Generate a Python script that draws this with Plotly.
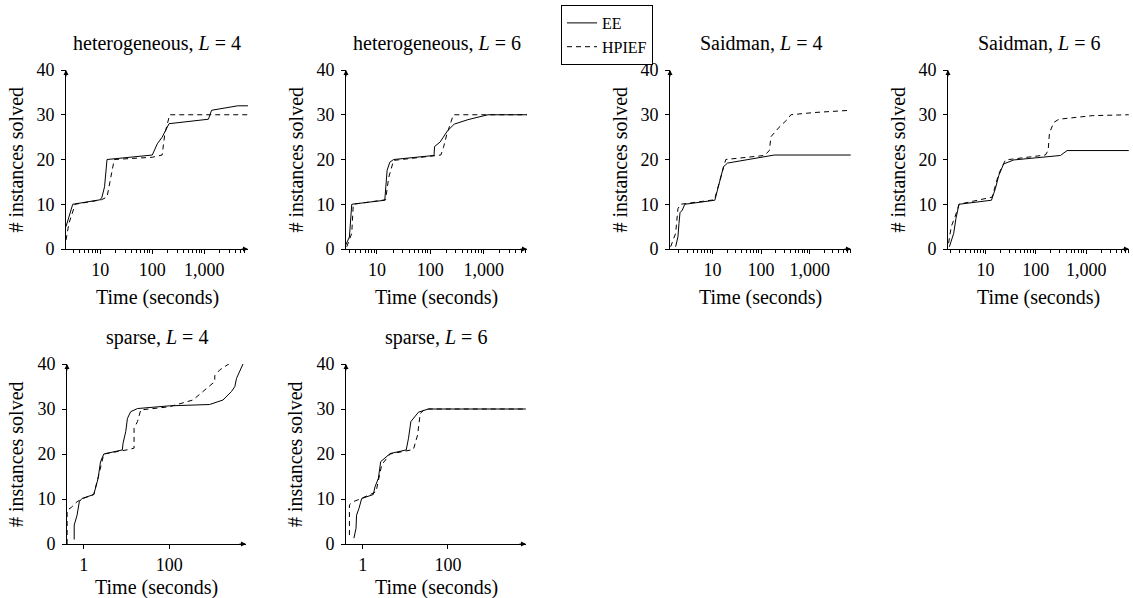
import plotly.graph_objects as go

# time (s) / number of instances solved
het4_ee_t = [2.2, 2.96, 10, 10.8, 12.1, 13.5, 100, 125, 155, 210, 1200, 1380, 4400, 6900]
het4_ee_n = [5, 10, 11, 11.6, 13.9, 20, 21, 23.5, 25, 28, 29, 31, 32, 32]
het4_hp_t = [2.2, 2.5, 3.3, 10.5, 13.5, 15.2, 18.6, 100, 155, 174, 216, 6900]
het4_hp_n = [2, 5.7, 10, 11, 11.6, 14.6, 20, 20.5, 21, 25.7, 30, 30]

het6_ee_t = [2.6, 3.05, 3.37, 14, 15.5, 17.4, 20.5, 117, 120, 152, 209, 280, 505, 1200, 6500]
het6_ee_n = [0.9, 2.7, 10, 10.9, 17.6, 19.4, 20, 20.9, 22.9, 23.9, 26.4, 27.9, 28.9, 30, 30]
het6_hp_t = [2.72, 3.37, 3.6, 14.5, 16.6, 20.5, 157, 176, 204, 270, 6500]
het6_hp_n = [0.5, 3.5, 10, 11, 16, 19.8, 21, 22.7, 25.7, 30, 30]

sai4_ee_t = [1.75, 1.95, 2.05, 2.15, 2.4, 2.7, 11.2, 14.4, 16.9, 20.4, 45, 100, 187, 7000]
sai4_ee_n = [0.5, 2.7, 5.7, 8.1, 8.7, 10, 10.9, 15.3, 18.4, 19.2, 19.9, 20.5, 21, 21]
sai4_hp_t = [1.38, 1.75, 1.95, 2.2, 11, 16.5, 18.8, 117, 148, 160, 235, 350, 410, 1250, 7000]
sai4_hp_n = [0.5, 3.5, 9, 10, 11, 18.3, 20, 20.9, 22, 25.1, 27.2, 29, 30, 30.5, 31]

sai6_ee_t = [1.93, 2.35, 2.6, 2.86, 3.0, 13.2, 15.8, 18.4, 23, 36.6, 134, 309, 418, 7000]
sai6_ee_n = [0.5, 3.5, 6.8, 9.4, 10, 10.9, 13.5, 16.4, 19, 19.9, 20.5, 20.9, 22, 22]
sai6_hp_t = [1.86, 2.1, 2.5, 2.9, 3.0, 13.6, 18.4, 25, 155, 176, 187, 229, 288, 1320, 7000]
sai6_hp_n = [1.3, 5, 7.2, 9.4, 10, 11.6, 16.8, 19.9, 21, 22, 26, 28.3, 29, 29.8, 30]

spa4_ee_t = [0.6, 0.6, 0.7, 0.76, 0.79, 0.91, 1.72, 2.17, 2.47, 2.95, 7.97, 8.3, 9.6, 10.5,
             12.5, 18, 100, 870, 1790, 2830, 3390, 3700, 4450, 5300]
spa4_ee_n = [1, 4.2, 6.4, 8.7, 9.4, 10.1, 11, 14.6, 18.3, 20, 20.9, 22.4, 25, 27.9,
             29.4, 30.1, 30.7, 31, 32, 33.9, 35, 36.8, 38.7, 40.1]
spa4_hp_t = [0.41, 0.41, 0.51, 0.70, 0.95, 1.72, 2.2, 2.95, 11.4, 15, 15, 18, 21.5, 100,
             355, 730, 1150, 1150, 1510, 2830]
spa4_hp_n = [0, 7.5, 8.1, 9.4, 10.1, 11, 15, 20, 21, 21.3, 25.7, 27.2, 29.8, 30.5,
             32, 34.6, 36.1, 37.4, 38.7, 40.4]

spa6_ee_t = [0.625, 0.70, 0.72, 0.82, 0.95, 1.78, 1.95, 2.34, 2.65, 4.4, 10.5, 11.9, 13.5, 20.4, 35, 6700]
spa6_ee_n = [1.3, 3.5, 6.4, 7.9, 10.1, 11, 12.7, 14.6, 18.3, 20.1, 20.9, 23.5, 27.2, 29.3, 30, 30]
spa6_hp_t = [0.49, 0.49, 0.60, 0.87, 2.06, 2.8, 4.4, 15.5, 19.4, 22.4, 29, 6700]
spa6_hp_n = [2, 8.7, 9.4, 10, 11.6, 17.6, 20, 21, 24.2, 29, 30, 30]

titles = ["heterogeneous, <i>L</i> = 4", "heterogeneous, <i>L</i> = 6",
          "Saidman, <i>L</i> = 4", "Saidman, <i>L</i> = 6",
          "sparse, <i>L</i> = 4", "sparse, <i>L</i> = 6"]
series = [
    (het4_ee_t, het4_ee_n, het4_hp_t, het4_hp_n),
    (het6_ee_t, het6_ee_n, het6_hp_t, het6_hp_n),
    (sai4_ee_t, sai4_ee_n, sai4_hp_t, sai4_hp_n),
    (sai6_ee_t, sai6_ee_n, sai6_hp_t, sai6_hp_n),
    (spa4_ee_t, spa4_ee_n, spa4_hp_t, spa4_hp_n),
    (spa6_ee_t, spa6_ee_n, spa6_hp_t, spa6_hp_n),
]

W, H = 1133, 598
FONT = "Liberation Serif"
TICK_FS = 18
LABEL_FS = 20

# pixel boxes of each panel (left, right, top, bottom) and log10 x-range
panels = [
    dict(box=(66, 248, 70, 249), xr=(0.342, 3.84), top=True),
    dict(box=(346, 527, 70, 249), xr=(0.42, 3.81), top=True),
    dict(box=(670, 851, 70, 249), xr=(0.127, 3.85), top=True),
    dict(box=(948, 1129, 70, 249), xr=(0.258, 3.85), top=True),
    dict(box=(67, 246, 364, 544), xr=(-0.39, 3.79), top=False),
    dict(box=(346, 526, 364, 544), xr=(-0.39, 3.83), top=False),
]

minor_vals = [m * 10 ** e for e in range(0, 4) for m in range(2, 10)]

fig = go.Figure()
layout = dict(width=W, height=H,
              margin=dict(l=0, r=0, t=0, b=0, autoexpand=False),
              plot_bgcolor="white", paper_bgcolor="white",
              font=dict(family=FONT, size=LABEL_FS, color="black"))
annotations = []

for i, (p, s, title) in enumerate(zip(panels, series, titles)):
    k = "" if i == 0 else str(i + 1)
    ee_t, ee_n, hp_t, hp_n = s
    fig.add_trace(go.Scatter(x=ee_t, y=ee_n, mode="lines", name="EE",
                             line=dict(color="black", width=1),
                             showlegend=(i == 0), xaxis="x" + k, yaxis="y" + k))
    fig.add_trace(go.Scatter(x=hp_t, y=hp_n, mode="lines", name="HPIEF",
                             line=dict(color="black", width=1, dash="5px,4px"),
                             showlegend=(i == 0), xaxis="x" + k, yaxis="y" + k))

    l, r, t, b = p["box"]
    xa = dict(type="log", range=list(p["xr"]), domain=[l / W, r / W],
              anchor="y" + k, showgrid=False, zeroline=False,
              showline=True, linecolor="black", linewidth=1,
              ticks="outside", ticklen=4, tickcolor="black",
              tickfont=dict(family=FONT, size=TICK_FS))
    if p["top"]:
        xa.update(tickmode="array", tickvals=[10, 100, 1000],
                  ticktext=["10", "100", "1,000"],
                  minor=dict(tickmode="array", tickvals=minor_vals, ticks="outside",
                             ticklen=3, tickcolor="black", showgrid=False))
    else:
        xa.update(tickmode="array", tickvals=[1, 100], ticktext=["1", "100"])
    ya = dict(range=[0, 40], domain=[1 - b / H, 1 - t / H], anchor="x" + k,
              showgrid=False, zeroline=False, showline=True, linecolor="black",
              linewidth=1, ticks="outside", ticklen=4, tickcolor="black",
              tickvals=[0, 10, 20, 30, 40], ticklabelstandoff=3,
              tickfont=dict(family=FONT, size=TICK_FS))
    layout["xaxis" + k] = xa
    layout["yaxis" + k] = ya

    xd, yd = "x" + k + " domain", "y" + k + " domain"
    annotations += [
        dict(text=title, xref=xd, yref=yd, x=0.5, y=1, yshift=27,
             showarrow=False, xanchor="center", yanchor="middle"),
        dict(text="# instances solved", xref=xd, yref=yd, x=0, y=0.5, xshift=-51,
             textangle=-90, showarrow=False, xanchor="center", yanchor="middle"),
        dict(text="Time (seconds)", xref=xd, yref=yd, x=0.5, y=0,
             yshift=-48 if p["top"] else -43,
             showarrow=False, xanchor="center", yanchor="middle"),
        # axis arrow heads
        dict(text="", xref=xd, yref=yd, x=1, y=0, ax=-8, ay=0, showarrow=True,
             arrowhead=2, arrowsize=1, arrowwidth=1, arrowcolor="black"),
        dict(text="", xref=xd, yref=yd, x=0, y=1, ax=0, ay=8, showarrow=True,
             arrowhead=2, arrowsize=1, arrowwidth=1, arrowcolor="black"),
    ]

layout["annotations"] = annotations
layout["legend"] = dict(x=561 / W, y=1 - 5 / H, xanchor="left", yanchor="top",
                        bordercolor="black", borderwidth=1, bgcolor="white",
                        font=dict(family=FONT, size=16), itemwidth=30,
                        entrywidth=100, entrywidthmode="pixels",
                        tracegroupgap=0)
fig.update_layout(**layout)

# drop the default page margin so the figure sits at the window origin
fig.write_html("out.html", config={"displayModeBar": False},
               post_script="document.body.style.margin='0px';")
